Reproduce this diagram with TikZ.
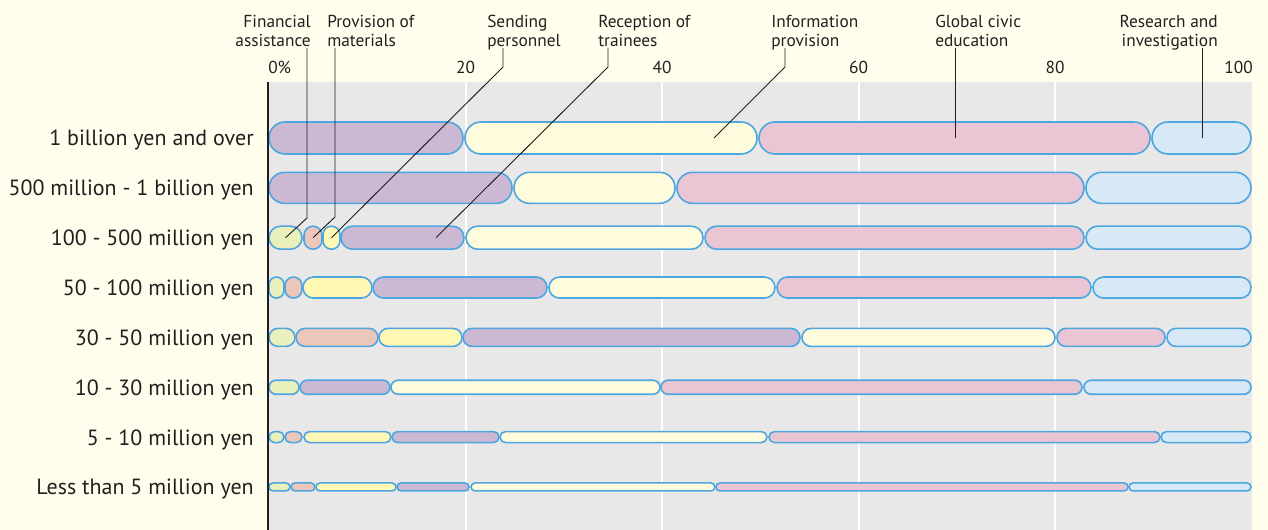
\documentclass[tikz,border=0pt]{standalone}
\usepackage{fontspec}
\setmainfont{PT Sans}
\definecolor{bgcream}{HTML}{FFFEEC}
\definecolor{plotgray}{HTML}{E8E8E8}
\definecolor{segline}{HTML}{4DA6E0}
\definecolor{txt}{HTML}{231F20}
\definecolor{cgreen}{HTML}{EAF0BC}
\definecolor{csalmon}{HTML}{ECC6BA}
\definecolor{cyellow}{HTML}{FFF8B5}
\definecolor{cpurple}{HTML}{CBB8D2}
\definecolor{ccream}{HTML}{FFFCDD}
\definecolor{cpink}{HTML}{EAC6D4}
\definecolor{cblue}{HTML}{D7E9F6}
\newcommand\barseg[6]{%
  \pgfmathsetmacro\bsw{(#3-#2)*0.75}%
  \pgfmathsetmacro\bsh{#5*0.75}%
  \pgfmathsetmacro\bsr{min(#3-#2,#5)*0.375-0.01}%
  \node[segbox,fill=#6,minimum width=\bsw pt,minimum height=\bsh pt,rounded corners=\bsr pt,anchor=west] (#1) at (#2,#4) {};}
\tikzset{
  segbox/.style={draw=segline,line width=1.2pt,inner sep=0pt,outer sep=0pt},
  catlabel/.style={anchor=base east,font=\fontsize{16.5}{19}\selectfont,text=txt,inner sep=0pt},
  toplabel/.style={font=\fontsize{13}{14.25}\selectfont,text=txt,inner sep=0pt},
  ticklabel/.style={font=\fontsize{13}{14.25}\selectfont,text=txt,inner sep=0pt},
  leader/.style={draw=txt,line width=0.7pt},
  gridline/.style={draw=white,line width=1.5pt}
}
\begin{document}
\begin{tikzpicture}[x=0.75pt,y=-0.75pt]
\useasboundingbox (0,0) rectangle (1268,530);
\fill[bgcream] (0,0) rectangle (1268,530);
\fill[plotgray] (269,82) rectangle (1252,530);
\foreach \gx in {465.5,662,858.5,1055} \draw[gridline] (\gx,82) -- (\gx,530);
% row 1
\barseg{r1a}{269}{463}{138}{32}{cpurple}
\barseg{r1b}{465}{757}{138}{32}{ccream}
\barseg{r1c}{759}{1150}{138}{32}{cpink}
\barseg{r1d}{1152}{1251}{138}{32}{cblue}
% row 2
\barseg{r2a}{269}{512}{187.85}{31}{cpurple}
\barseg{r2b}{514}{675}{187.85}{31}{ccream}
\barseg{r2c}{677}{1084}{187.85}{31}{cpink}
\barseg{r2d}{1086}{1251}{187.85}{31}{cblue}
% row 3
\barseg{r3a}{269}{302}{237.7}{23}{cgreen}
\barseg{r3b}{304}{322}{237.7}{23}{csalmon}
\barseg{r3c}{323}{340}{237.7}{23}{cyellow}
\barseg{r3d}{341}{464}{237.7}{23}{cpurple}
\barseg{r3e}{466}{703}{237.7}{23}{ccream}
\barseg{r3f}{705}{1084}{237.7}{23}{cpink}
\barseg{r3g}{1086}{1251}{237.7}{23}{cblue}
% row 4
\barseg{r4a}{269}{284}{287.55}{21}{cgreen}
\barseg{r4b}{285}{302}{287.55}{21}{csalmon}
\barseg{r4c}{303}{372}{287.55}{21}{cyellow}
\barseg{r4d}{373}{547}{287.55}{21}{cpurple}
\barseg{r4e}{549}{775}{287.55}{21}{ccream}
\barseg{r4f}{777}{1091}{287.55}{21}{cpink}
\barseg{r4g}{1093}{1251}{287.55}{21}{cblue}
% row 5
\barseg{r5a}{269}{295}{337.4}{18}{cgreen}
\barseg{r5b}{296}{378}{337.4}{18}{csalmon}
\barseg{r5c}{379}{462}{337.4}{18}{cyellow}
\barseg{r5d}{463}{800}{337.4}{18}{cpurple}
\barseg{r5e}{802}{1055}{337.4}{18}{ccream}
\barseg{r5f}{1057}{1165}{337.4}{18}{cpink}
\barseg{r5g}{1167}{1251}{337.4}{18}{cblue}
% row 6
\barseg{r6a}{269}{299}{387.25}{14}{cgreen}
\barseg{r6b}{300}{390}{387.25}{14}{cpurple}
\barseg{r6c}{391}{660}{387.25}{14}{ccream}
\barseg{r6d}{661}{1082}{387.25}{14}{cpink}
\barseg{r6e}{1084}{1251}{387.25}{14}{cblue}
% row 7
\barseg{r7a}{269}{284}{437.1}{11}{cgreen}
\barseg{r7b}{285}{302}{437.1}{11}{csalmon}
\barseg{r7c}{304}{391}{437.1}{11}{cyellow}
\barseg{r7d}{392}{499}{437.1}{11}{cpurple}
\barseg{r7e}{500}{767}{437.1}{11}{ccream}
\barseg{r7f}{769}{1160}{437.1}{11}{cpink}
\barseg{r7g}{1161}{1251}{437.1}{11}{cblue}
% row 8
\barseg{r8a}{269}{290}{486.95}{8}{cgreen}
\barseg{r8b}{291}{315}{486.95}{8}{csalmon}
\barseg{r8c}{316}{396}{486.95}{8}{cyellow}
\barseg{r8d}{397}{469}{486.95}{8}{cpurple}
\barseg{r8e}{471}{715}{486.95}{8}{ccream}
\barseg{r8f}{716}{1128}{486.95}{8}{cpink}
\barseg{r8g}{1129}{1251}{486.95}{8}{cblue}
% axis
\draw[txt,line width=1.4pt] (268.3,82) -- (268.3,530);
% category labels
\node[catlabel] (c1) at (254,146) {1 billion yen and over};
\node[catlabel] (c2) at (254,195.85) {500 million - 1 billion yen};
\node[catlabel] (c3) at (254,245.7) {100 - 500 million yen};
\node[catlabel] (c4) at (254,295.55) {50 - 100 million yen};
\node[catlabel] (c5) at (254,345.4) {30 - 50 million yen};
\node[catlabel] (c6) at (254,395.25) {10 - 30 million yen};
\node[catlabel] (c7) at (254,445.1) {5 - 10 million yen};
\node[catlabel] (c8) at (254,494.95) {Less than 5 million yen};
% tick labels
\node[ticklabel,anchor=base west] (k0) at (268,74) {0\%};
\node[ticklabel,anchor=base] (k20) at (465.5,74) {20};
\node[ticklabel,anchor=base] (k40) at (662,74) {40};
\node[ticklabel,anchor=base] (k60) at (858.5,74) {60};
\node[ticklabel,anchor=base] (k80) at (1055,74) {80};
\node[ticklabel,anchor=base east] (k100) at (1253,74) {100};
% top labels (base anchor = baseline of the last line)
\node[toplabel,align=right,anchor=base east] (tfin) at (311,47) {Financial\\assistance};
\node[toplabel,align=left,anchor=base west] (tprov) at (327,47) {Provision of\\materials};
\node[toplabel,align=left,anchor=base west] (tsend) at (487,47) {Sending\\personnel};
\node[toplabel,align=left,anchor=base west] (trec) at (598,47) {Reception of\\trainees};
\node[toplabel,align=left,anchor=base west] (tinfo) at (771,47) {Information\\provision};
\node[toplabel,align=left,anchor=base west] (tglob) at (935,47) {Global civic\\education};
\node[toplabel,align=right,anchor=base east] (tres) at (1218,47) {Research and\\investigation};
% leader lines
\coordinate (finA) at (307,48);  \coordinate (finB) at (307,218);
\coordinate (provA) at (335,48); \coordinate (provB) at (335,217);
\coordinate (sendA) at (503,48); \coordinate (sendB) at (503,67);
\coordinate (recA) at (608,48);  \coordinate (recB) at (608,67);  \coordinate (recE) at (436,237.7);
\coordinate (infoA) at (785,48); \coordinate (infoB) at (785,67); \coordinate (infoE) at (714,138);
\coordinate (globA) at (955,48); \coordinate (resA) at (1202,48);
\draw[leader] (finA) -- (finB) -- (r3a.center);
\draw[leader] (provA) -- (provB) -- (r3b.center);
\draw[leader] (sendA) -- (sendB) -- (r3c.center);
\draw[leader] (recA) -- (recB) -- (recE);
\draw[leader] (infoA) -- (infoB) -- (infoE);
\draw[leader] (globA) -- (globA |- r1c.center);
\draw[leader] (resA) -- (resA |- r1d.center);
\end{tikzpicture}
\end{document}
